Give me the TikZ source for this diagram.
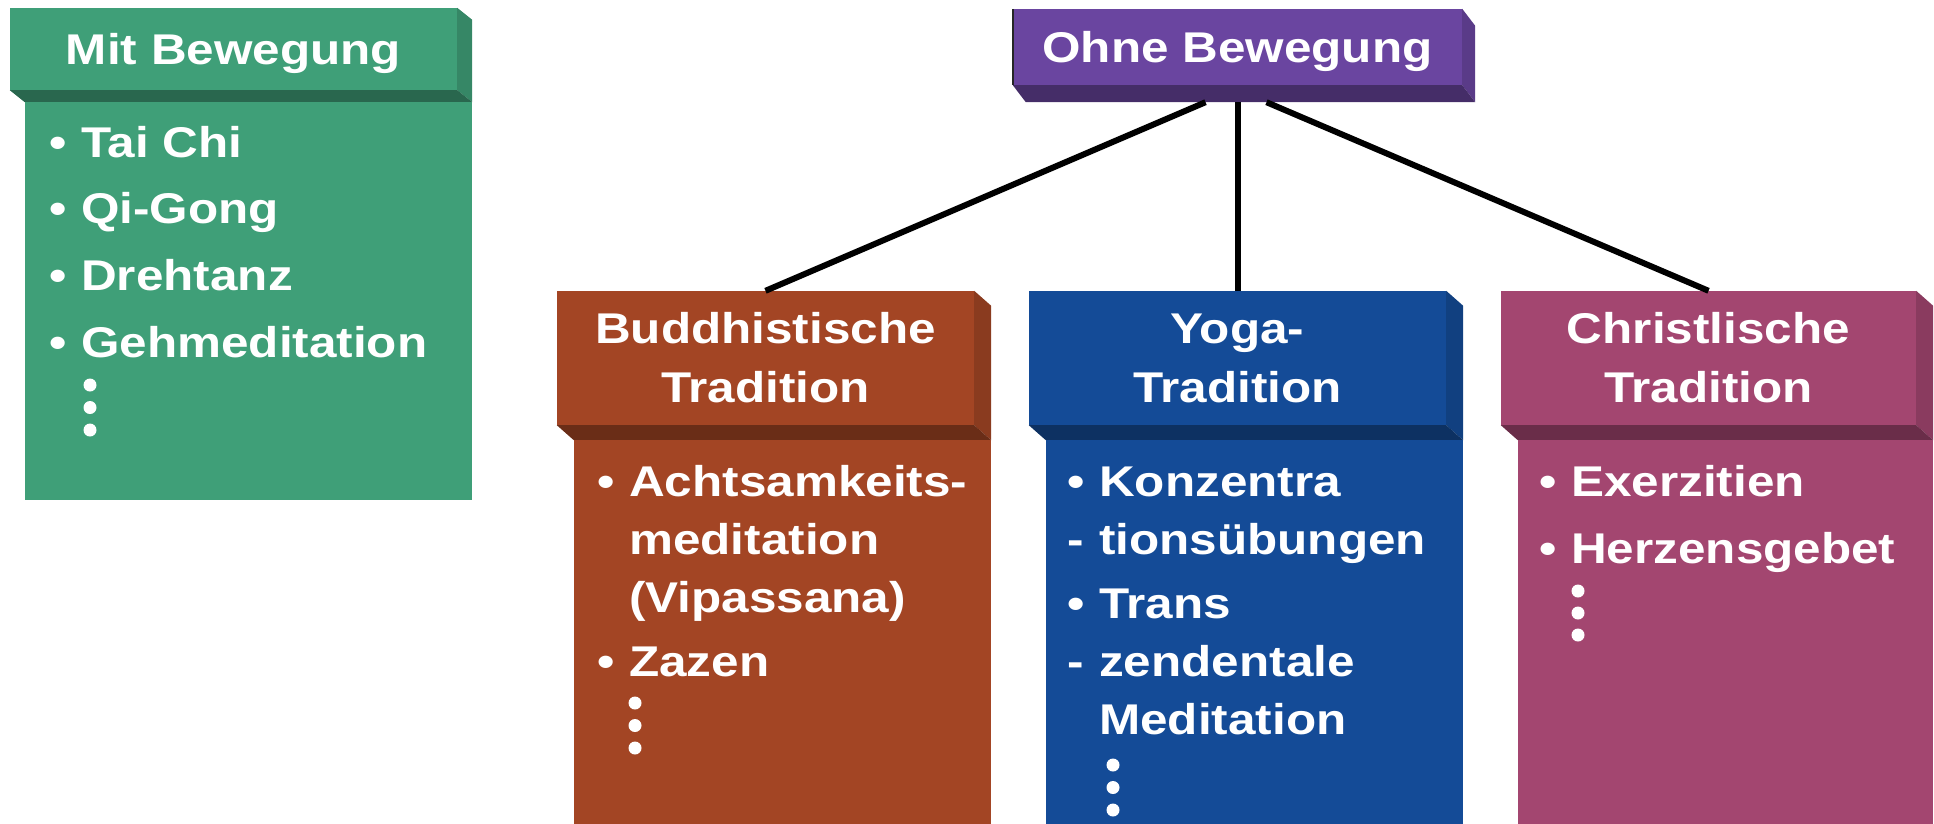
\documentclass[tikz,border=0pt]{standalone}
\usepackage{fontspec}
\setmainfont{Liberation Sans}[FakeStretch=1.15]
\usetikzlibrary{calc}

\definecolor{mitgreen}{HTML}{3F9F78}
\definecolor{ohnepurple}{HTML}{6A45A0}
\definecolor{buddhred}{HTML}{A34524}
\definecolor{yogablue}{HTML}{144B97}
\definecolor{christpink}{HTML}{A34670}

\newcommand{\bul}{\makebox[32pt][l]{\textbullet}}
\newcommand{\dsh}{\makebox[32pt][l]{-}}
\newcommand{\ind}{\makebox[32pt][l]{}}

\begin{document}
\begin{tikzpicture}[x=1pt,y=-1pt]
\tikzstyle{every node}=[inner sep=0pt, text=white, font=\fontsize{43}{59}\selectfont\bfseries]
\tikzstyle{hdr}=[rectangle, align=center, minimum height=134pt]
\tikzstyle{item}=[anchor=base west]
\tikzstyle{conn}=[line width=6pt, black]
\useasboundingbox (0,0) rectangle (1934,823);

% header boxes
\draw (233.5,49) node (mit) [hdr, fill=mitgreen, minimum width=447pt, minimum height=82pt, text depth=0pt] {Mit Bewegung};
\draw (1237.5,47) node (ohne) [hdr, fill=ohnepurple, minimum width=449pt, minimum height=76pt, text depth=0pt] {Ohne Bewegung};
\draw (765.5,358) node (buddh) [hdr, fill=buddhred, minimum width=417pt] {Buddhistische\\Tradition};
\draw (1237.5,358) node (yoga) [hdr, fill=yogablue, minimum width=417pt] {Yoga-\\Tradition};
\draw (1708.5,358) node (christ) [hdr, fill=christpink, minimum width=415pt] {Christlische\\Tradition};

% depth faces
\foreach \n/\c/\dx/\dy in {mit/mitgreen/15/12, ohne/ohnepurple/13/17, buddh/buddhred/17/15, yoga/yogablue/17/15, christ/christpink/17/15} {
  \fill[\c!85!black] (\n.north east) -- ++(\dx,\dy) -- ($(\n.south east)+(\dx,\dy)$) -- (\n.south east) -- cycle;
  \fill[\c!65!black] (\n.south west) -- (\n.south east) -- ++(\dx,\dy) -- ($(\n.south west)+(\dx,\dy)$) -- cycle;
}
\draw[line width=2pt, black!85] (ohne.north west) -- (ohne.south west);

% bodies
\fill[mitgreen] ($(mit.south west)+(15,12)$) rectangle ($(mit.south east)+(15,410)$);
\fill[buddhred] ($(buddh.south west)+(17,15)$) rectangle ($(buddh.south east)+(17,400)$);
\fill[yogablue] ($(yoga.south west)+(17,15)$) rectangle ($(yoga.south east)+(17,400)$);
\fill[christpink] ($(christ.south west)+(17,15)$) rectangle ($(christ.south east)+(17,400)$);

% connectors
\draw[conn] ($(ohne.south)+(-32,17)$) -- (buddh.north);
\draw[conn] ($(ohne.south)+(0,17)$) -- (yoga.north);
\draw[conn] ($(ohne.south)+(29,17)$) -- (christ.north);

% mit bewegung
\draw (49,157) node (mit1) [item] {\bul Tai Chi};
\draw (49,223) node (mit2) [item] {\bul Qi-Gong};
\draw (49,290) node (mit3) [item] {\bul Drehtanz};
\draw (49,357) node (mit4) [item] {\bul Gehmeditation};
\foreach \k in {0,1,2} \fill[white] (90,385+22.5*\k) circle (6.5pt);

% buddhistisch
\draw (597,496) node (bud1) [item] {\bul Achtsamkeits-};
\draw (597,554) node (bud2) [item] {\ind meditation};
\draw (597,612) node (bud3) [item] {\ind (Vipassana)};
\draw (597,676) node (bud4) [item] {\bul Zazen};
\foreach \k in {0,1,2} \fill[white] (635,703+22.5*\k) circle (6.5pt);

% yoga
\draw (1067,496) node (yog1) [item] {\bul Konzentra};
\draw (1067,554) node (yog2) [item] {\dsh tionsübungen};
\draw (1067,618) node (yog3) [item] {\bul Trans};
\draw (1067,676) node (yog4) [item] {\dsh zendentale};
\draw (1067,734) node (yog5) [item] {\ind Meditation};
\foreach \k in {0,1,2} \fill[white] (1113,765+22.5*\k) circle (6.5pt);

% christlich
\draw (1539,496) node (chr1) [item] {\bul Exerzitien};
\draw (1539,563) node (chr2) [item] {\bul Herzensgebet};
\foreach \k in {0,1,2} \fill[white] (1578,591+22*\k) circle (6.5pt);
\end{tikzpicture}
\end{document}
